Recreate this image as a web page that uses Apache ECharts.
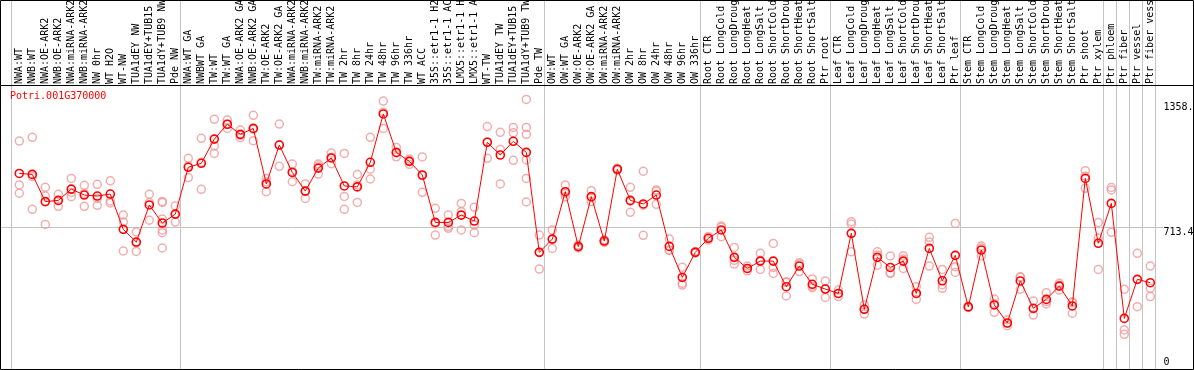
<!DOCTYPE html>
<html>
<head>
<meta charset="utf-8">
<script src="https://cdn.jsdelivr.net/npm/echarts@6/dist/echarts.min.js"></script>
<style>
  html, body { margin: 0; padding: 0; background: #fff; }
  #c { width: 1194px; height: 370px; }
</style>
</head>
<body>
<div id="c"></div>
<script>
const geneId = 'Potri.001G370000';

const categories = [
  'NWA:WT', 'NWB:WT', 'NWA:OE-ARK2', 'NWB:OE-ARK2', 'NWA:miRNA-ARK2', 'NWB:miRNA-ARK2',
  'NW 0hr', 'WT H2O', 'WT-NW', 'TUA1dEY NW', 'TUA1dEY+TUB15 NW', 'TUA1dY+TUB9 NW', 'Pde NW',
  'NWA:WT GA', 'NWBWT GA', 'TW:WT', 'TW:WT GA', 'NWA:OE-ARK2 GA', 'NWB:OE-ARK2 GA',
  'TW:OE-ARK2', 'TW:OE-ARK2 GA', 'NWA:miRNA-ARK2 GA', 'NWB:miRNA-ARK2 GA', 'TW:miRNA-ARK2',
  'TW:miRNA-ARK2 GA', 'TW 2hr', 'TW 8hr', 'TW 24hr', 'TW 48hr', 'TW 96hr', 'TW 336hr', 'WT ACC',
  '35S::etr1-1 H2O', '35S::etr1-1 ACC', 'LMX5::etr1-1 H2O', 'LMX5::etr1-1 ACC', 'WT-TW',
  'TUA1dEY TW', 'TUA1dEY+TUB15 TW', 'TUA1dY+TUB9 TW', 'Pde TW',
  'OW:WT', 'OW:WT GA', 'OW:OE-ARK2', 'OW:OE-ARK2 GA', 'OW:miRNA-ARK2', 'OW:miRNA-ARK2 GA',
  'OW 2hr', 'OW 8hr', 'OW 24hr', 'OW 48hr', 'OW 96hr', 'OW 336hr',
  'Root CTR', 'Root LongCold', 'Root LongDrought', 'Root LongHeat', 'Root LongSalt',
  'Root ShortCold', 'Root ShortDrought', 'Root ShortHeat', 'Root ShortSalt', 'Ptr root',
  'Leaf CTR', 'Leaf LongCold', 'Leaf LongDrought', 'Leaf LongHeat', 'Leaf LongSalt',
  'Leaf ShortCold', 'Leaf ShortDrought', 'Leaf ShortHeat', 'Leaf ShortSalt', 'Ptr leaf',
  'Stem CTR', 'Stem LongCold', 'Stem LongDrought', 'Stem LongHeat', 'Stem LongSalt',
  'Stem ShortCold', 'Stem ShortDrought', 'Stem ShortHeat', 'Stem ShortSalt', 'Ptr shoot',
  'Ptr xylem', 'Ptr phloem', 'Ptr fiber', 'Ptr vessel', 'Ptr fiber vessel'
];

// indices of categories that start a new group (a separator line is drawn at their left edge)
const groupStarts = [0, 13, 41, 53, 63, 73, 84, 85, 86, 87];

const means = [
  986, 981, 844, 850, 907, 877, 872, 882, 704, 640,
  827, 736, 781, 1017, 1037, 1159, 1234, 1183, 1213, 933,
  1129, 991, 897, 1013, 1064, 923, 918, 1042, 1286, 1092,
  1047, 978, 739, 739, 776, 746, 1143, 1079, 1148, 1092,
  588, 655, 894, 617, 869, 645, 1007, 850, 832, 877,
  618, 462, 588, 659, 701, 563, 507, 544, 544, 415,
  519, 427, 403, 381, 684, 301, 563, 512, 544, 381,
  608, 445, 573, 313, 600, 323, 232, 444, 306, 351,
  418, 318, 961, 634, 835, 255, 452, 435
];

const replicates = [
  [1149, 928, 886], [1168, 970, 805], [916, 872, 729], [881, 850, 820], [961, 890, 869],
  [926, 885, 820], [931, 860, 825], [949, 847, 837], [776, 741, 595], [691, 636, 593],
  [881, 839, 750], [845, 840, 756, 701, 687, 610], [822, 780, 741], [1062, 1024, 965], [1163, 1042, 906],
  [1259, 1126, 1087], [1255, 1234, 1213], [1205, 1178, 1166], [1279, 1209, 1151], [961, 944, 894],
  [1235, 1130, 1022], [1033, 996, 944], [933, 898, 860], [1033, 1023, 983], [1089, 1068, 1035],
  [1087, 870, 805], [981, 928, 840], [1168, 1007, 958], [1351, 1295, 1213], [1117, 1090, 1070],
  [1059, 1050, 1032], [1069, 975, 891], [810, 732, 675], [776, 718, 709], [835, 793, 701],
  [815, 726, 687], [1222, 1145, 1062], [1193, 1107, 933], [1218, 1191, 1052], [1358.86, 1218, 1183, 1054, 961, 842],
  [675, 588, 504], [701, 655, 608], [928, 885, 869], [625, 617, 610], [899, 865, 844],
  [652, 645, 638], [1012, 1007, 1002], [916, 845, 790], [997, 826, 674], [902, 898, 830],
  [655, 600, 598], [513, 432, 423], [592, 588, 585], [668, 659, 650], [721, 715, 667],
  [613, 548, 529], [519, 507, 495], [583, 548, 502], [633, 512, 482], [440, 437, 368],
  [536, 530, 491], [454, 417, 410], [444, 403, 361], [398, 381, 365], [743, 731, 591],
  [323, 301, 277], [591, 575, 523], [570, 485, 482], [570, 555, 507], [415, 381, 351],
  [664, 640, 519], [502, 425, 407], [734, 516, 487], [316, 313, 310], [620, 610, 570],
  [353, 330, 286], [247, 231, 218], [465, 462, 402], [343, 303, 272], [385, 340, 328],
  [432, 424, 398], [339, 334, 281], [1000, 972, 911], [739, 661, 502], [915, 903, 689],
  [402, 197, 175], [583, 314], [519, 407, 365]
];

const yTickValues = [0, 713.4, 1358.86];
const yAxisMax = 1426.8;
const yGridInterval = 713.4;

const FONT = '"DejaVu Sans Mono", monospace';
const RED = '#ff0000';
const PINK = '#ee9a9a';
const GRAY = '#c4c4c4';

const repData = [];
replicates.forEach((arr, i) => arr.forEach(v => repData.push([i, v])));

const chart = echarts.init(document.getElementById('c'), null, { renderer: 'canvas' });

const hidden = (gi, type) => ({ gridIndex: gi, type: type || 'value', show: false });

chart.setOption({
  animation: false,
  backgroundColor: '#fff',
  title: {
    text: geneId, left: 10, top: 91, padding: 0,
    textStyle: { color: RED, fontFamily: FONT, fontSize: 10, fontWeight: 'normal' }
  },
  grid: [
    { left: 12.8, top: 86, width: 1144, height: 283, outerBoundsMode: 'none' },
    { left: 1, top: 86, width: 1162, height: 283, outerBoundsMode: 'none' },
    { left: 11, top: 0, width: 1144, height: 369, outerBoundsMode: 'none' },
    { left: 0.5, top: 0.5, width: 1193, height: 85, show: true, borderColor: '#000', borderWidth: 1, backgroundColor: 'transparent', z: 10, outerBoundsMode: 'none' },
    { left: 0.5, top: 85.5, width: 1193, height: 284, show: true, borderColor: '#000', borderWidth: 1, backgroundColor: 'transparent', z: 10, outerBoundsMode: 'none' }
  ],
  xAxis: [
    {
      gridIndex: 0, type: 'category', data: categories, position: 'top', boundaryGap: true,
      axisLine: { show: false }, axisTick: { show: false }, splitLine: { show: false },
      axisLabel: { rotate: 90, interval: 0, margin: 2, fontFamily: FONT, fontSize: 10, color: '#000', hideOverlap: false }
    },
    hidden(1),
    {
      gridIndex: 2, type: 'category', data: categories, boundaryGap: true,
      axisLine: { show: false }, axisTick: { show: false }, axisLabel: { show: false },
      splitLine: {
        show: true,
        interval: (idx) => groupStarts.indexOf(idx) >= 0,
        lineStyle: { color: GRAY, width: 1 }
      }
    },
    hidden(3), hidden(4)
  ],
  yAxis: [
    { gridIndex: 0, type: 'value', min: 0, max: yAxisMax, show: false },
    {
      gridIndex: 1, type: 'value', min: 0, max: yAxisMax, interval: yGridInterval, position: 'right',
      axisLine: { show: false }, axisTick: { show: false },
      splitLine: { show: true, showMinLine: false, showMaxLine: false, lineStyle: { color: GRAY, width: 1 } },
      axisLabel: {
        customValues: yTickValues,
        margin: 0.5, align: 'left', fontFamily: FONT, fontSize: 10, color: '#000',
        formatter: (v) => v === 0 ? '{b|0}' : (v > yGridInterval ? '{t|' + v + '}' : '{m|' + v + '}'),
        rich: {
          b: { fontFamily: FONT, fontSize: 10, color: '#000', padding: [0, 0, 14, 0] },
          m: { fontFamily: FONT, fontSize: 10, color: '#000', padding: [9, 0, 0, 0] },
          t: { fontFamily: FONT, fontSize: 10, color: '#000', padding: [16, 0, 0, 0] }
        }
      }
    },
    hidden(2), hidden(3), hidden(4)
  ],
  series: [
    {
      name: 'replicates', type: 'scatter', xAxisIndex: 0, yAxisIndex: 0,
      data: repData, symbol: 'circle', symbolSize: 8, z: 2,
      itemStyle: { color: 'rgba(255,255,255,0)', borderColor: PINK, borderWidth: 1.5 },
      emphasis: { disabled: true }
    },
    {
      name: 'mean', type: 'line', xAxisIndex: 0, yAxisIndex: 0,
      data: means, symbol: 'circle', symbolSize: 8, z: 3,
      lineStyle: { color: RED, width: 1 },
      itemStyle: { color: 'rgba(255,255,255,0)', borderColor: RED, borderWidth: 1.6 },
      emphasis: { disabled: true }
    }
  ]
});
</script>
</body>
</html>
